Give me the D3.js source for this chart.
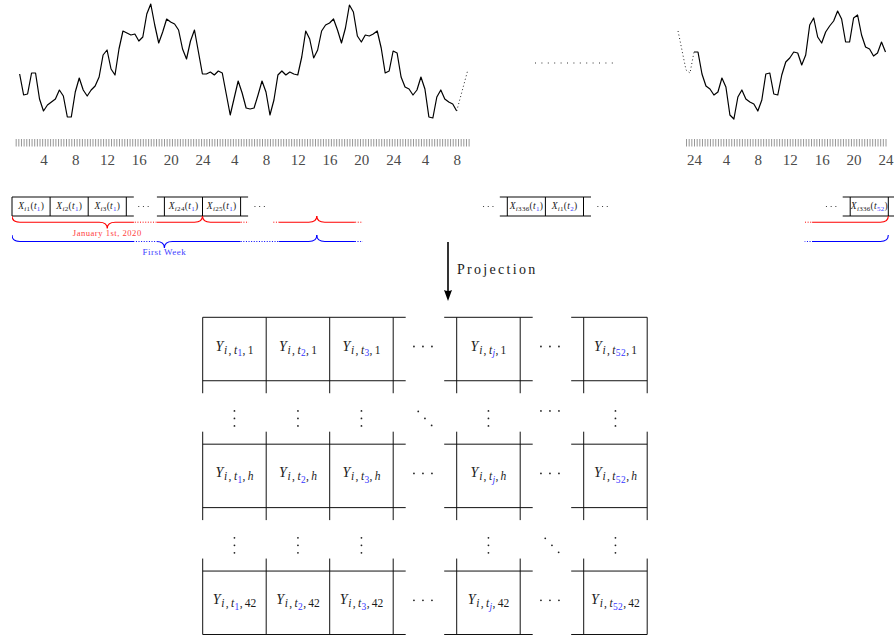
<!DOCTYPE html>
<html>
<head>
<meta charset="utf-8">
<script src="https://cdn.jsdelivr.net/npm/d3@7"></script>
<style>
  body { margin: 0; background: #fff; }
</style>
</head>
<body>
<div id="chart"></div>
<script>
// ---- data ----
// half-hourly load of one series (hour 1 of day 1 .. hour 8 of day 3)
const leftStartHour = 1;
const leftValues = [46,25,26,47,47,21,9,15,18,21,30,24,3,3,28,42,30,24,30,34,
  43,65,70,51,45,71,89,87,85,86,79,83,106,116,95,77,88,101,98,96,
  90,71,61,79,90,68,46,46,48,45,49,47,26,5,22,39,27,12,11,12,
  25,39,28,5,20,45,49,45,48,46,45,63,89,81,62,70,89,95,97,101,
  90,77,92,115,108,84,78,85,84,86,89,72,47,49,69,67,43,33,31,25,
  30,43,31,3,2,23,30,21,18,16,9];
// last day of the year (hour 0 .. 24)
const rightStartHour = 0;
const rightValues = [68,68,46,34,31,25,28,42,33,5,1,23,30,21,18,16,9,20,46,47,
  26,25,45,58,62,68,67,55,65,95,102,83,77,88,94,99,109,101,78,78,
  102,105,85,73,71,64,67,78,68];
// dotted continuation at the breaks
const leftGapHours = [56, 57.4];
const leftGapValues = [9, 50];
const rightGapHours = [-2, -1, -0.5, 0];
const rightGapValues = [89, 50, 47, 68];

const leftTickHours = [4,8,12,16,20,24,28,32,36,40,44,48,52,56];
const leftTickLabels = ['4','8','12','16','20','24','4','8','12','16','20','24','4','8'];
const rightTickHours = [0,4,8,12,16,20,24];
const rightTickLabels = ['24','4','8','12','16','20','24'];

// flattened sequence X_{ik}(t_j)
const stripIds = ['1','2','3','24','25','336','1','336'];
const stripWeeks = ['1','1','1','1','1','1','2','52'];
const stripSlots = [0,1,2,4,5,13,14,22];
const stripDotSlots = [3.45, 6.5, 12.5, 15.5, 21.5];

// projected matrix Y_{i,t_j,h}
const colLabels = ['1','2','3','j','52'];
const colSlots = [0,1,2,4,6];
const rowLabels = ['1','h','42'];
const rowSlots = [0,2,4];

const serif = "'Liberation Serif','DejaVu Serif',serif";
const blue = '#3838ff';
const ink = '#1a1a1a';

const svg = d3.select('#chart').append('svg')
    .attr('width', 894)
    .attr('height', 635);

// ---- time series ----
const xLeft = d3.scaleLinear().domain([0, 56]).range([11.7, 456.7]);
const xRight = d3.scaleLinear().domain([0, 24]).range([694, 885.5]);
const y = d3.scaleLinear().domain([0, 120]).range([120, 0]);

function drawPanel(x, start, values, gapH, gapV, tickRange, tickHours, tickLabels) {
    const pts = values.map((v, i) => [start + i * 0.5, v]);
    const line = d3.line().x(d => x(d[0])).y(d => y(d[1]));
    svg.append('path')
        .datum(pts)
        .attr('fill', 'none')
        .attr('stroke', '#000')
        .attr('stroke-width', 1.2)
        .attr('stroke-linejoin', 'round')
        .attr('d', line);
    svg.append('path')
        .datum(gapH.map((h, i) => [h, gapV[i]]))
        .attr('fill', 'none')
        .attr('stroke', '#222')
        .attr('stroke-width', 1)
        .attr('stroke-dasharray', '1 2.6')
        .attr('d', line);

    // minor ticks
    const ticks = svg.append('g')
        .attr('transform', 'translate(0,139)')
        .call(d3.axisBottom(x).tickValues(d3.range(tickRange[0], tickRange[1], 1 / 3))
            .tickSize(7.5).tickFormat(''));
    ticks.select('.domain').remove();
    ticks.selectAll('line').attr('stroke', '#8a8a8a').attr('stroke-width', 0.9);

    // hour labels
    const labs = svg.append('g')
        .attr('transform', 'translate(0,147)')
        .call(d3.axisBottom(x).tickValues(tickHours).tickSize(0).tickPadding(7.5)
            .tickFormat((d, i) => tickLabels[i]));
    labs.select('.domain').remove();
    labs.selectAll('text')
        .style('font-family', serif)
        .style('font-size', '15px')
        .attr('fill', '#4a4a4a');
}

drawPanel(xLeft, leftStartHour, leftValues, leftGapHours, leftGapValues,
    [0.5, 57.8], leftTickHours, leftTickLabels);
drawPanel(xRight, rightStartHour, rightValues, rightGapHours, rightGapValues,
    [-1, 24.2], rightTickHours, rightTickLabels);

// dotted break between the panels
svg.append('line')
    .attr('x1', 535).attr('x2', 613).attr('y1', 63).attr('y2', 63)
    .attr('stroke', '#333').attr('stroke-width', 1.1)
    .attr('stroke-dasharray', '1 5.4');

// ---- rich text helper ----
function rich(x, yy, parts) {
    const t = svg.append('text')
        .attr('x', x).attr('y', yy)
        .attr('text-anchor', 'middle')
        .style('font-family', serif);
    let level = 0;
    parts.forEach(p => {
        const ts = t.append('tspan').text(p.t)
            .attr('font-size', p.s)
            .attr('fill', p.c || ink);
        if (p.i) ts.attr('font-style', 'italic');
        if (p.ls) ts.attr('letter-spacing', p.ls);
        const lv = p.lv || 0;
        if (lv !== level) ts.attr('dy', lv - level);
        level = lv;
    });
    return t;
}

// ---- flattened sequence strip ----
const sx = d3.scaleLinear().domain([0, 1]).range([12, 50.1]);
const stripTop = 197, stripBot = 216;
const stripGroups = [[0, 3, false, true], [4, 6, true, true], [13, 15, true, true], [22, 23, true, true]];
stripGroups.forEach(([s0, s1, el, er]) => {
    const xl = sx(s0) - (el ? 7.5 : 0), xr = Math.min(sx(s1) + (er ? 7.5 : 0), 894);
    [stripTop, stripBot].forEach(yy => svg.append('line')
        .attr('x1', xl).attr('x2', xr).attr('y1', yy).attr('y2', yy)
        .attr('stroke', '#5a5a5a').attr('stroke-width', 1.6));
    d3.range(s0, s1 + 1).forEach(s => svg.append('line')
        .attr('x1', sx(s)).attr('x2', sx(s)).attr('y1', stripTop).attr('y2', stripBot)
        .attr('stroke', '#000').attr('stroke-width', 1));
});
stripSlots.forEach((s, i) => {
    rich(sx(s + 0.5), 209, [
        { t: 'X', s: 9.5, i: 1, ls: 0.3 },
        { t: 'i', s: 7, i: 1, lv: 1.6, ls: 0.3 },
        { t: stripIds[i], s: 7, lv: 1.6, ls: 0.3 },
        { t: '(', s: 9.5, ls: 0.3 },
        { t: 't', s: 9.5, i: 1, ls: 0.3 },
        { t: stripWeeks[i], s: 7, lv: 1.6, c: blue, ls: 0.3 },
        { t: ')', s: 9.5 }
    ]);
});
stripDotSlots.forEach(s => {
    [-4.7, 0, 4.7].forEach(dx => svg.append('circle')
        .attr('cx', sx(s) + dx).attr('cy', 206.5).attr('r', 0.6).attr('fill', '#222'));
});

// ---- braces ----
function bracePath(x0, x1, y0, a, r) {
    const tip = (x0 + x1) / 2;
    return `M${x0},${y0} Q${x0},${y0 + a} ${x0 + r},${y0 + a} L${tip - r},${y0 + a} ` +
        `Q${tip},${y0 + a} ${tip},${y0 + 2 * a} Q${tip},${y0 + a} ${tip + r},${y0 + a} ` +
        `L${x1 - r},${y0 + a} Q${x1},${y0 + a} ${x1},${y0}`;
}
let clipId = 0;
function drawBraces(spans, segments, y0, a, color) {
    segments.forEach(([s0, s1, dotted]) => {
        const id = 'clip' + (clipId++);
        svg.append('clipPath').attr('id', id).append('rect')
            .attr('x', sx(s0)).attr('width', sx(s1) - sx(s0))
            .attr('y', y0 - 3).attr('height', 2 * a + 6);
        spans.forEach(([b0, b1]) => svg.append('path')
            .attr('d', bracePath(sx(b0), sx(b1), y0, a, 8))
            .attr('clip-path', `url(#${id})`)
            .attr('fill', 'none')
            .attr('stroke', color)
            .attr('stroke-width', dotted ? 1 : 1.1)
            .attr('stroke-dasharray', dotted ? '1 1.6' : null));
    });
}
drawBraces([[0, 5], [5, 8], [8, 11.5], [18, 23]],
    [[0, 3.2, 0], [3.2, 3.8, 1], [3.8, 6, 0], [6, 6.2, 1], [6.83, 7, 1], [7, 9, 0], [9, 9.2, 1], [20.8, 21, 1], [21, 23.2, 0]],
    216, 6.2, '#ff0000');
drawBraces([[0, 8], [8, 16], [18, 23]],
    [[0, 3.2, 0], [3.2, 3.8, 1], [3.8, 6, 0], [6, 7, 1], [7, 9, 0], [9, 9.2, 1], [20.8, 21, 1], [21, 23.2, 0]],
    235, 6.5, '#0000ff');
svg.append('text').attr('x', sx(2.5)).attr('y', 235.5).attr('text-anchor', 'middle')
    .style('font-family', serif).style('font-size', '8.6px').attr('fill', '#ff4040')
    .attr('letter-spacing', 0.5)
    .text('January 1st, 2020');
svg.append('text').attr('x', sx(4)).attr('y', 254.5).attr('text-anchor', 'middle')
    .style('font-family', serif).style('font-size', '9px').attr('fill', '#4040ff')
    .attr('letter-spacing', 0.5)
    .text('First Week');

// ---- projection arrow ----
svg.append('line').attr('x1', 448).attr('x2', 448).attr('y1', 242).attr('y2', 293)
    .attr('stroke', '#000').attr('stroke-width', 1.6);
svg.append('path').attr('d', 'M448,301 L444,290 Q448,292 452,290 Z').attr('fill', '#000');
svg.append('text').attr('x', 457).attr('y', 274)
    .style('font-family', serif).style('font-size', '14px').attr('fill', ink)
    .attr('letter-spacing', 2.3)
    .text('Projection');

// ---- projected matrix ----
const gx = d3.scaleLinear().domain([0, 7]).range([202.7, 647.2]);
const gy = d3.scaleLinear().domain([0, 5]).range([317.3, 634.5]);
const colGroups = [[0, 3], [4, 5], [6, 7]];
const rowGroups = [[0, 1], [2, 3], [4, 5]];
const ext = 12.5;
const grid = svg.append('g').attr('stroke', '#111').attr('stroke-width', 1);
colGroups.forEach(([c0, c1]) => rowGroups.forEach(([r0, r1]) => {
    const xl = gx(c0) - (c0 > 0 ? ext : 0), xr = gx(c1) + (c1 < 7 ? ext : 0);
    [r0, r1].forEach(r => grid.append('line')
        .attr('x1', xl).attr('x2', xr).attr('y1', gy(r)).attr('y2', gy(r)));
    const yt = gy(r0) - (r0 > 0 ? ext : 0), yb = gy(r1) + (r1 < 5 ? ext : 0);
    d3.range(c0, c1 + 1).forEach(c => grid.append('line')
        .attr('x1', gx(c)).attr('x2', gx(c)).attr('y1', yt).attr('y2', yb));
}));

rowSlots.forEach((r, ri) => colSlots.forEach((c, ci) => {
    const cl = colLabels[ci], rl = rowLabels[ri];
    rich(gx(c + 0.5), gy(r + 0.5) + 1.5, [
        { t: 'Y', s: 14, i: 1, ls: 0.8 },
        { t: 'i', s: 11.5, i: 1, lv: 3, ls: 1.2 },
        { t: ',', s: 11.5, lv: 3, ls: 2.5 },
        { t: 't', s: 11.5, i: 1, lv: 3, ls: 0.3 },
        { t: cl, s: 9.5, i: cl === 'j', lv: 5.5, c: blue, ls: 0.4 },
        { t: ',', s: 11.5, lv: 3, ls: 2.2 },
        { t: rl, s: 11.5, i: rl === 'h', lv: 3 }
    ]);
}));

function dots(pts) {
    pts.forEach(([cx, cy]) => svg.append('circle')
        .attr('cx', cx).attr('cy', cy).attr('r', 0.9).attr('fill', '#222'));
}
// horizontal ellipses inside the rows
rowSlots.forEach(r => [3, 5].forEach(c => {
    const cx = gx(c + 0.5) - 2, cy = gy(r + 0.5) - 2.5;
    dots([[cx - 9, cy], [cx, cy], [cx + 9, cy]]);
}));
// vertical ellipses in the gap rows
[1, 3].forEach(r => colSlots.forEach(c => {
    const cx = gx(c + 0.5), cy = gy(r + 0.5) + 6;
    dots([[cx, cy - 7.5], [cx, cy], [cx, cy + 7.5]]);
}));
// diagonal ellipses
[[3, 1], [5, 3]].forEach(([c, r]) => {
    const cx = gx(c + 0.5), cy = gy(r + 0.5) + 6;
    dots([[cx - 6.7, cy - 7], [cx, cy], [cx + 6.7, cy + 7]]);
});
// horizontal ellipsis in the first gap row
{
    const cx = gx(5.5) - 2, cy = gy(1.5) - 1.5;
    dots([[cx - 9, cy], [cx, cy], [cx + 9, cy]]);
}
</script>
</body>
</html>
